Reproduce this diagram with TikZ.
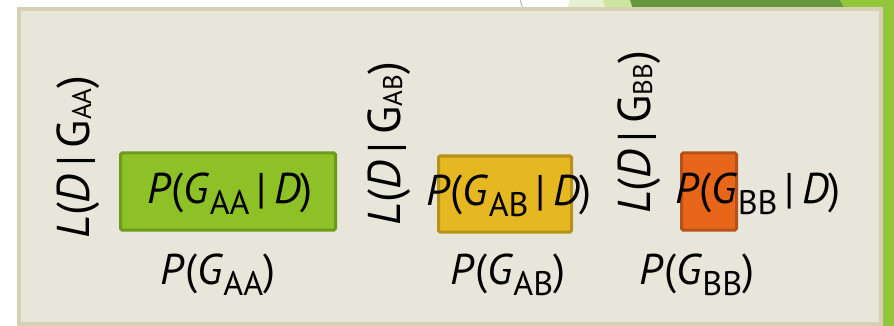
\documentclass[tikz,border=0pt]{standalone}
\usepackage{fontspec}
\setmainfont{PT Sans}
\definecolor{panelfill}{HTML}{E8E6DB}
\definecolor{panelborder}{HTML}{D6D0B4}
\definecolor{greenfill}{HTML}{8EC126}
\definecolor{greenborder}{HTML}{6C9A1E}
\definecolor{yellowfill}{HTML}{E5B720}
\definecolor{yellowborder}{HTML}{B8911A}
\definecolor{orangefill}{HTML}{E8661A}
\definecolor{orangeborder}{HTML}{B5521A}
\definecolor{stripgreen}{HTML}{93C63A}
\definecolor{darkgreen}{HTML}{66963D}
\definecolor{midgreen}{HTML}{CDE5A0}
\definecolor{palegreen}{HTML}{E6F0D2}
\newcommand\bsub[1]{\raisebox{-11pt}{\fontsize{34}{34}\selectfont #1}}
\newcommand\rsub[1]{\raisebox{-2pt}{\fontsize{27}{27}\selectfont #1}}
\tikzset{
  boxlabel/.style={anchor=base, inner sep=0pt, font=\fontsize{43}{43}\selectfont},
  rotlabel/.style={anchor=base, inner sep=0pt, rotate=90, font=\fontsize{46}{46}\selectfont},
  probbox/.style={line width=3pt, rounded corners=1.5pt}
}
\begin{document}
\begin{tikzpicture}[x=1pt,y=-1pt]
\useasboundingbox (0,0) rectangle (894,326);
\fill[white] (0,0) rectangle (894,326);
% top decoration
\fill[palegreen] (567,9) .. controls (568,4) .. (570,0) -- (894,0) -- (894,9) -- cycle;
\fill[midgreen] (606,9) .. controls (604,4) .. (603,0) -- (894,0) -- (894,9) -- cycle;
\fill[darkgreen] (633,9) .. controls (631,4) .. (630,0) -- (840,0) .. controls (842,4) .. (845,9) -- cycle;
\fill[stripgreen] (840,0) -- (894,0) -- (894,326) -- (882,326) -- (882,9) -- (845,9) .. controls (842,4) .. (840,0) -- cycle;
\draw[gray!70, line width=0.8pt] (520,0) -- (523,9);
% panel
\draw[fill=panelfill, draw=panelborder, line width=3.5pt] (19,9) rectangle (881,324);
% boxes
\node[probbox, draw=greenborder, fill=greenfill, minimum width=215pt, minimum height=77pt] (boxAA) at (228,191.5) {};
\node[probbox, draw=yellowborder, fill=yellowfill, minimum width=133pt, minimum height=76pt] (boxAB) at (505,194) {};
\node[probbox, draw=orangeborder, fill=orangefill, minimum width=55pt, minimum height=77pt] (boxBB) at (709,191.5) {};
% posterior labels
\node[boxlabel] (postAA) at (230,203) {\textit{P}(\textit{G}\bsub{AA}\,|\,\textit{D})};
\node[boxlabel] (postAB) at (509,205) {\textit{P}(\textit{G}\bsub{AB}\,|\,\textit{D})};
\node[boxlabel] (postBB) at (758,203) {\textit{P}(\textit{G}\bsub{BB}\,|\,\textit{D})};
% prior labels
\node[boxlabel] (priorAA) at (218,284) {\textit{P}(\textit{G}\bsub{AA})};
\node[boxlabel] (priorAB) at (508,284) {\textit{P}(\textit{G}\bsub{AB})};
\node[boxlabel] (priorBB) at (697,284) {\textit{P}(\textit{G}\bsub{BB})};
% likelihood labels
\node[rotlabel] (likAA) at (89,157) {\textit{L}(\textit{D}\,|\,G\rsub{AA})};
\node[rotlabel] (likAB) at (400,143.5) {\textit{L}(\textit{D}\,|\,G\rsub{AB})};
\node[rotlabel] (likBB) at (650,132.5) {\textit{L}(\textit{D}\,|\,G\rsub{BB})};
\end{tikzpicture}
\end{document}
